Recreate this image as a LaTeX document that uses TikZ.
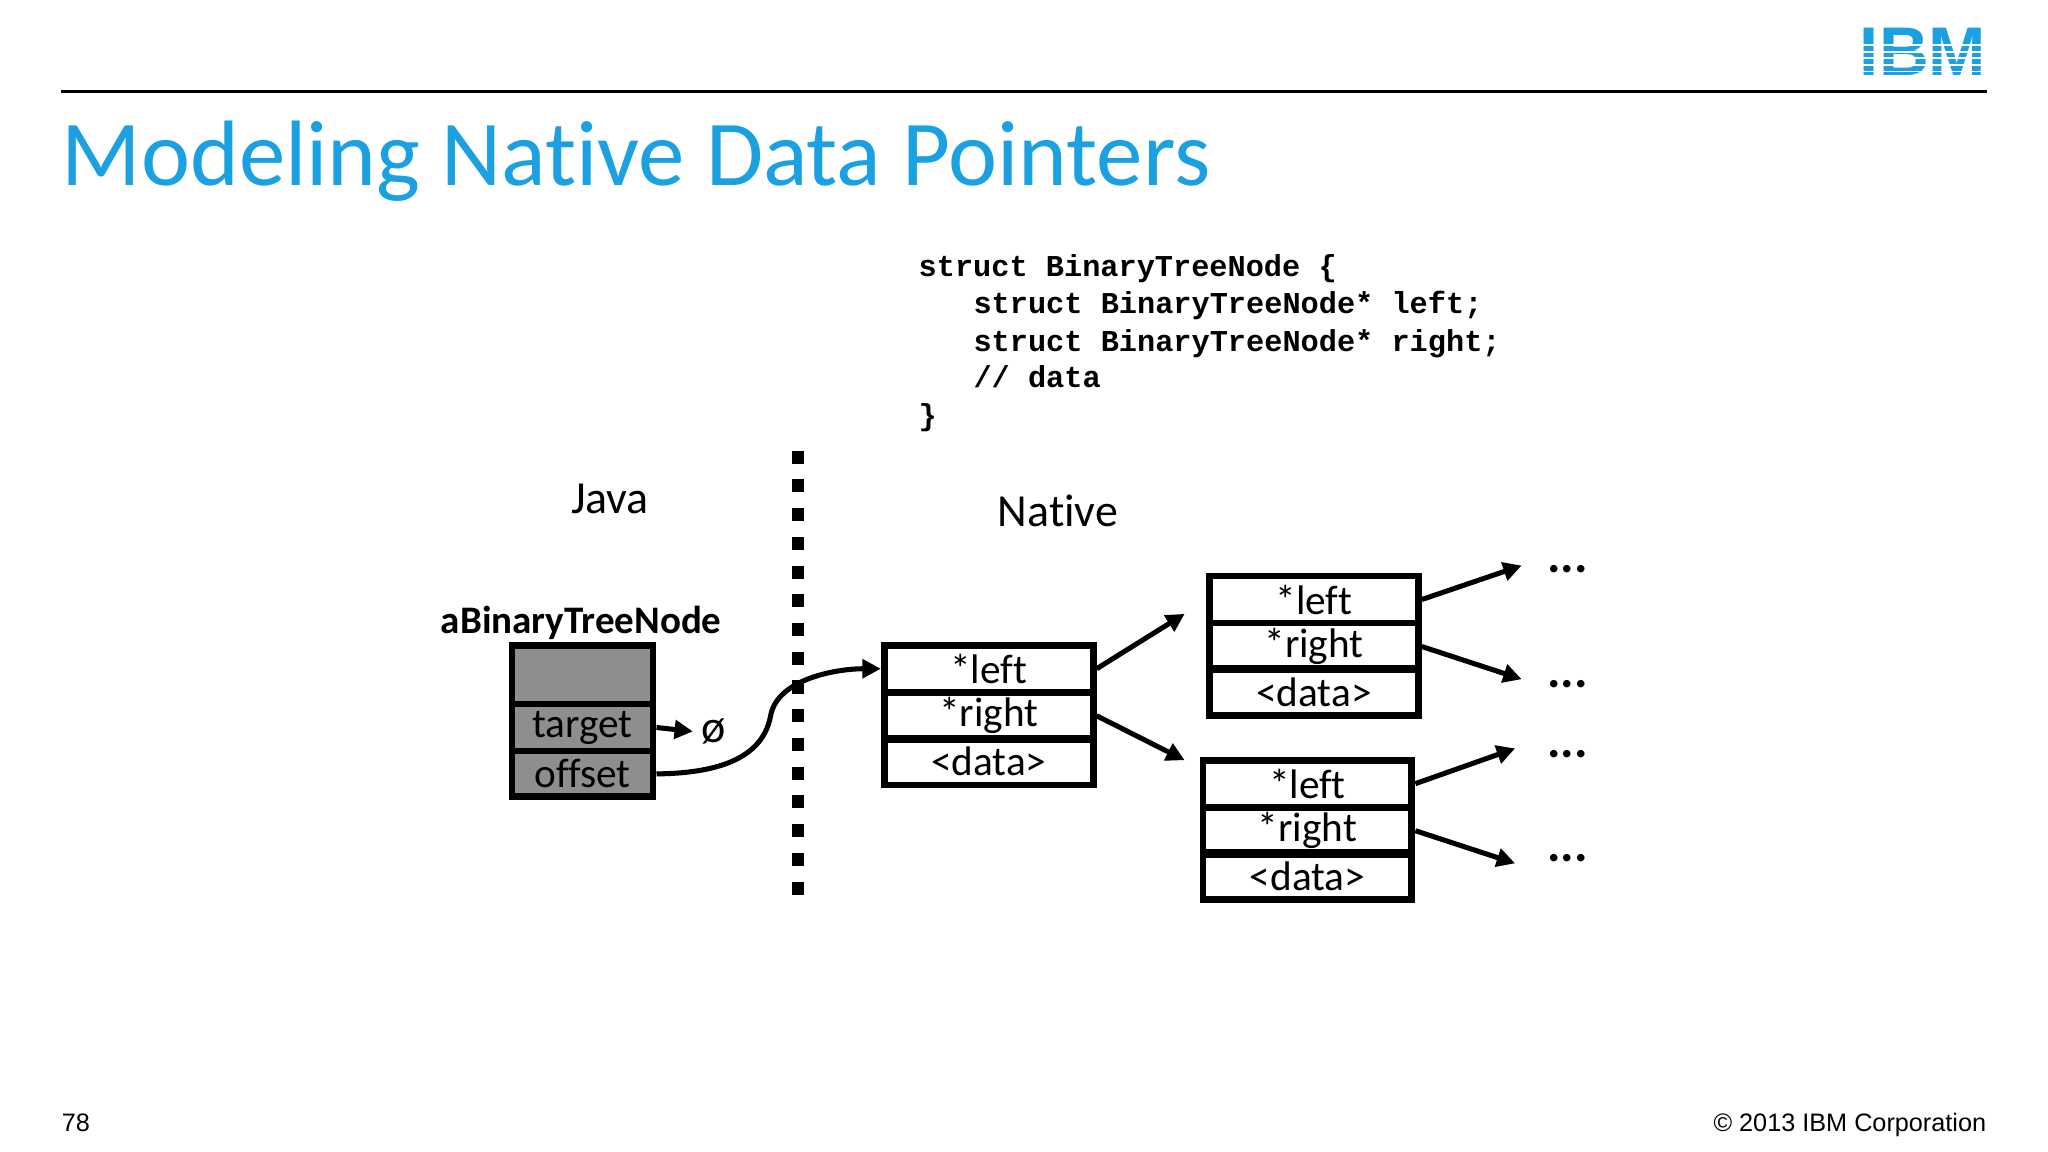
\documentclass[tikz,border=0pt]{standalone}
\usepackage{fontspec}
\setmainfont[Ligatures={NoCommon}]{Carlito}
\newfontfamily\codef{Liberation Mono}
\newfontfamily\arialf{Liberation Sans}
\usetikzlibrary{arrows.meta}
\definecolor{ibmblue}{HTML}{1BA1E2}
\definecolor{boxgray}{HTML}{8E8E8E}
\tikzset{
  cell/.style={draw=black, line width=3pt, minimum width=3.2cm, minimum height=0.72cm, inner sep=0pt, font=\fontsize{18}{18}\selectfont},
  jcell/.style={draw=black, line width=3pt, fill=boxgray, minimum width=2.16cm, inner sep=0pt, font=\fontsize{18}{18}\selectfont},
  arr/.style={line width=2.2pt, -{Triangle[length=8pt,width=8pt]}},
  dots/.style={font=\fontsize{22}{22}\selectfont\bfseries},
  code/.style={anchor=base west, inner sep=0pt, font=\codef\bfseries\fontsize{13.2}{14}\selectfont},
}
\begin{document}
\begin{tikzpicture}[x=0.02cm,y=-0.02cm]
\useasboundingbox (0,0) rectangle (1568,882);
\fill[white] (0,0) rectangle (1568,882);
\draw[line width=1pt] (47,70) -- (1521,70);
\node[anchor=base east, text=ibmblue, font=\arialf\bfseries\fontsize{30}{30}\selectfont, inner sep=0pt] (logo) at (1521,58) {IBM};
\foreach \yy in {34,39,44,49,54} \fill[white] (1415,\yy) rectangle (1525,\yy+1.5);
\node[anchor=base west, text=ibmblue, font=\fontsize{40.5}{40}\selectfont, inner sep=0pt] (title) at (47,142) {Modeling Native Data Pointers};
\node[code] (c1) at (703,212) {struct BinaryTreeNode \{};
\node[code] (c2) at (745,240) {struct BinaryTreeNode* left;};
\node[code] (c3) at (745,269) {struct BinaryTreeNode* right;};
\node[code] (c4) at (745,297) {// data};
\node[code] (c5) at (703,326) {\}};
\coordinate (dtop) at (611,345);
\coordinate (dbot) at (611,687);
\draw[line width=0.18cm, dash pattern=on 0.2cm off 0.24cm] (dtop) -- (dbot);
\node[font=\fontsize{20}{20}\selectfont] (java) at (467,382) {Java};
\node[font=\fontsize{20}{20}\selectfont] (native) at (810,391) {Native};
\node[font=\bfseries\fontsize{17}{17}\selectfont] (abtn) at (445,477) {aBinaryTreeNode};
\node[jcell, minimum height=0.9cm] (jtop) at (446,516.5) {};
\node[jcell, minimum height=0.72cm] (jtarget) at (446,557) {target};
\node[jcell, minimum height=0.7cm] (joffset) at (446,592.5) {offset};
\node[font=\fontsize{20}{20}\selectfont] (null) at (546,560) {ø};
\draw[arr] (jtarget.east) -- (null.west);
\foreach \n/\x/\y in {a/757/512, b/1006/459, c/1001/600}{
  \node[cell] (\n l) at (\x,\y) {*left};
  \node[cell] (\n r) at (\x,\y+36) {*right};
  \node[cell] (\n d) at (\x,\y+71) {<data>};
}
\draw[line width=2.2pt, -{Triangle[length=8pt,width=8pt]}] (joffset.east) .. controls (560,592) and (585,575) .. (590,548) .. controls (595,520) and (640,512) .. (al.west);
\coordinate (t1) at (907,470); \coordinate (t2) at (907,582);
\draw[arr] (al.east) -- (t1);
\draw[arr] (ar.east) -- (t2);
\coordinate (t3) at (1165,433); \coordinate (t4) at (1165,520);
\coordinate (t5) at (1160,573); \coordinate (t6) at (1160,661);
\draw[arr] (bl.east) -- (t3);
\draw[arr] (br.east) -- (t4);
\draw[arr] (cl.east) -- (t5);
\draw[arr] (cr.east) -- (t6);
\node[dots] (d1) at (1200,436) {...};
\node[dots] (d2) at (1200,524) {...};
\node[dots] (d3) at (1200,577) {...};
\node[dots] (d4) at (1200,657) {...};
\node[anchor=base west, font=\arialf\fontsize{11}{11}\selectfont, inner sep=0pt] (pg) at (47,866) {78};
\node[anchor=base east, font=\arialf\fontsize{11}{11}\selectfont, inner sep=0pt] (copy) at (1521,866) {© 2013 IBM Corporation};
\end{tikzpicture}
\end{document}
